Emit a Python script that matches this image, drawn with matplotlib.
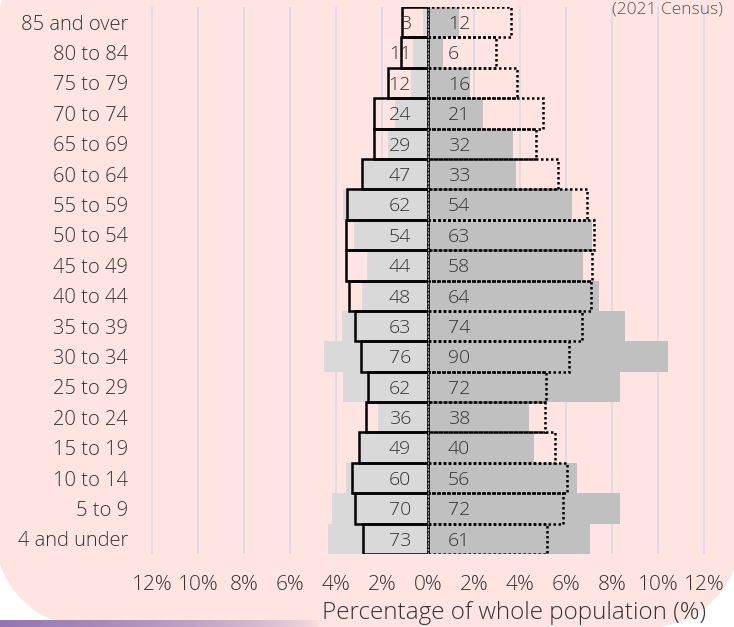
import numpy as np
import matplotlib.pyplot as plt
from matplotlib.patches import FancyBboxPatch

plt.rcParams['font.family'] = ['Open Sans', 'DejaVu Sans']
plt.rcParams['font.weight'] = 'light'

#################################################
# Data (youngest age group first)
ages = ["4 and under", "5 to 9", "10 to 14", "15 to 19", "20 to 24", "25 to 29",
        "30 to 34", "35 to 39", "40 to 44", "45 to 49", "50 to 54", "55 to 59",
        "60 to 64", "65 to 69", "70 to 74", "75 to 79", "80 to 84", "85 and over"]

# filled bars (% of whole population)
male_fill = [4.35, 4.19, 3.57, 2.95, 2.16, 3.71, 4.52, 3.75, 2.88, 2.64,
             3.22, 3.71, 2.85, 1.75, 1.43, 0.74, 0.67, 0.20]
female_fill = [7.06, 8.35, 6.48, 4.62, 4.39, 8.35, 10.42, 8.58, 7.42, 6.72,
               7.15, 6.25, 3.81, 3.68, 2.41, 1.83, 0.67, 1.36]

# outlined bars (% of whole population)
male_line = [2.81, 3.17, 3.29, 3.00, 2.70, 2.62, 2.93, 3.17, 3.43, 3.57,
             3.58, 3.51, 2.88, 2.33, 2.33, 1.73, 1.17, 1.14]
female_line = [5.17, 5.88, 6.04, 5.52, 5.09, 5.13, 6.13, 6.71, 7.07, 7.14,
               7.23, 6.93, 5.64, 4.70, 4.99, 3.88, 2.94, 3.60]

# counts printed next to the centre line
male_count = [73, 70, 60, 49, 36, 62, 76, 63, 48, 44, 54, 62, 47, 29, 24, 12, 11, 3]
female_count = [61, 72, 56, 40, 38, 72, 90, 74, 64, 58, 63, 54, 33, 32, 21, 16, 6, 12]

ticks = list(range(-12, 13, 2))

#################################################
W, H = 734, 627
fig = plt.figure(figsize=(W / 100, H / 100), dpi=100)
fig.patch.set_facecolor('white')

# pink page panel with rounded bottom corners + purple strip
bg = fig.add_axes([0, 0, 1, 1], zorder=-10)
bg.add_patch(FancyBboxPatch((-8, -60), 752, 690, boxstyle="round,pad=0,rounding_size=120",
                            fc='#ffe4e1', ec='none', zorder=1))
grad = np.zeros((1, 256, 4))
grad[..., 0] = 0.58
grad[..., 1] = 0.45
grad[..., 2] = 0.70
grad[..., 3] = np.linspace(1, 0, 256) ** 0.6
bg.imshow(grad, extent=(0, 320, 627, 620), aspect='auto', interpolation='bilinear', zorder=2)
bg.set_xlim(0, W)
bg.set_ylim(H, 0)
bg.axis('off')

ax = fig.add_axes([140.5 / W, 73 / H, 575 / W, 547 / H])
ax.set_facecolor('none')
y = np.arange(len(ages))

for t in ticks:
    if t != 0:
        ax.axvline(t, color='#dcdce2', lw=1.5, zorder=1)

ax.barh(y, [-v for v in male_fill], height=1, color='#d9d9d9', zorder=2)
ax.barh(y, female_fill, height=1, color='#c0c0c0', zorder=2)
ax.barh(y, [-v for v in male_line], height=1, fill=False, edgecolor='black',
        linewidth=1.8, zorder=3)
ax.barh(y, female_line, height=1, fill=False, edgecolor='black',
        linewidth=1.8, linestyle=(0, (1, 1)), zorder=3)
ax.axvline(0, color='#a0a0a0', lw=0.8, ls=(0, (2, 1)), zorder=4)

for i in y:
    ax.text(-0.74, i - 0.06, str(male_count[i]), ha='right', va='center',
            fontsize=14, color='#333333', zorder=5)
    ax.text(0.87, i - 0.06, str(female_count[i]), ha='left', va='center',
            fontsize=14, color='#333333', zorder=5)

ax.set_xlim(-12.5, 12.5)
ax.set_ylim(-0.5, 17.5)
ax.set_xticks(ticks, [f"{abs(t)}%" for t in ticks])
ax.set_yticks(y, ages)
ax.tick_params(axis='x', length=0, pad=15, labelsize=15, labelcolor='#333333')
ax.tick_params(axis='y', length=0, pad=9, labelsize=14.5, labelcolor='#333333')
for s in ax.spines.values():
    s.set_visible(False)

fig.text(514 / W, 1 - 613 / H, "Percentage of whole population (%)", ha='center',
         va='center', fontsize=17.5, color='#333333')
fig.text(723 / W, 1 - 10 / H, "(2021 Census)", ha='right', va='center',
         fontsize=12.5, color='#555555')

plt.savefig("out.png", dpi=100)
